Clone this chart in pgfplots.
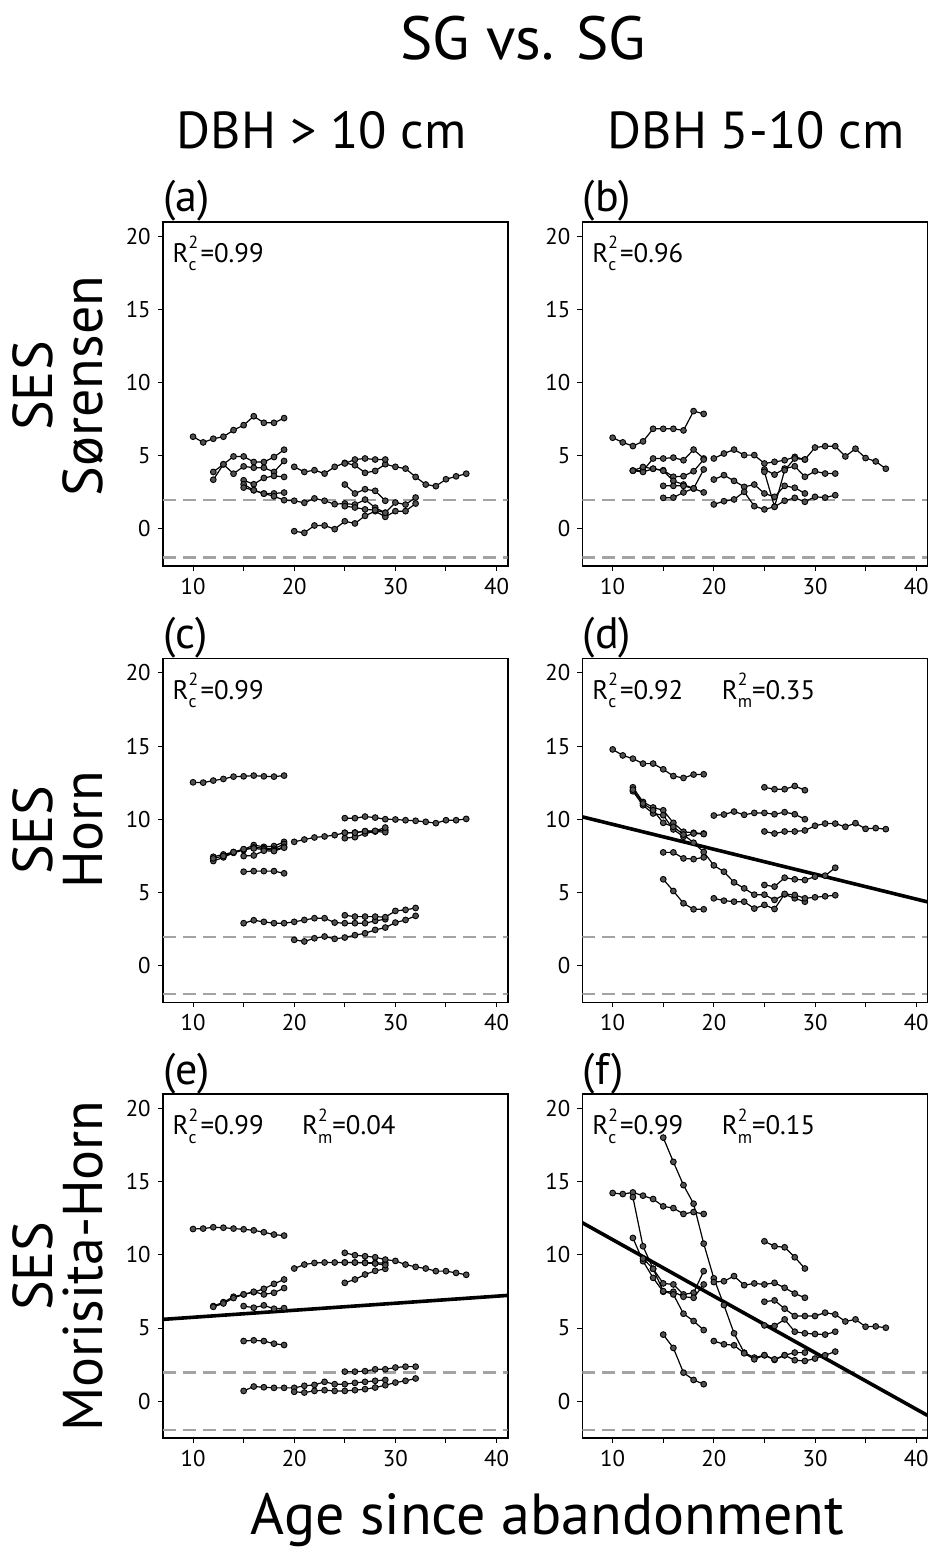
\documentclass[border=0pt]{standalone}
\usepackage{fontspec}
\setmainfont{PT Sans}
\usepackage{pgfplots}
\pgfplotsset{compat=1.18}
\newcommand{\ssz}{\fontsize{8.8}{8.8}\selectfont}
\newcommand{\Rc}[1]{R\rlap{\raisebox{0.52em}{\ssz 2}}\raisebox{-0.3em}{\ssz c}\hspace{2pt}=#1}
\newcommand{\Rm}[1]{R\rlap{\raisebox{0.52em}{\ssz 2}}\raisebox{-0.3em}{\ssz m}=#1}
\tikzset{rsq/.style={anchor=base west,inner sep=0pt,font=\fontsize{13.4}{13.4}\selectfont}}
\pgfplotsset{
 panel/.style={width=172.5pt,height=172pt,scale only axis,anchor=north west,
  xmin=7,xmax=41.1,ymin=-2.52,ymax=21,
  xtick={10,15,20,25,30,35,40},xticklabels={10,,20,,30,,40},
  ytick={0,5,10,15,20},
  tick align=outside,tick pos=left,major tick length=2.5pt,
  every tick/.style={black,line width=0.5pt},
  axis line style={line width=0.8pt},
  tick label style={font=\fontsize{11.4}{12}\selectfont},
  /pgf/number format/assume math mode=true},
 traj/.style={black,line width=0.6pt,mark=*,mark size=1.45pt,
  mark options={fill=black!68,draw=black,line width=0.45pt,solid}},
 ref/.style={black!36,line width=1.1pt,dash pattern=on 6.5pt off 3.5pt},
 fit/.style={black,line width=1.8pt}
}
\begin{document}
\begin{tikzpicture}
\path[use as bounding box] (0,0) rectangle (465.5pt,-776pt);
% titles
\node[anchor=base,inner sep=0pt,font=\fontsize{30.5}{30.5}\selectfont] at (261.5pt,-30pt) {SG vs. SG};
\node[anchor=base,inner sep=0pt,font=\fontsize{26}{26}\selectfont] at (160.8pt,-74.2pt) {DBH > 10 cm};
\node[anchor=base,inner sep=0pt,font=\fontsize{26}{26}\selectfont] at (378pt,-74.2pt) {DBH 5-10 cm};
% row labels
\node[rotate=90,align=center,inner sep=0pt,font=\fontsize{28}{25}\selectfont] at (28.75pt,-193pt) {SES\\Sørensen};
\node[rotate=90,align=center,inner sep=0pt,font=\fontsize{28}{25}\selectfont] at (28.75pt,-415pt) {SES\\Horn};
\node[rotate=90,align=center,inner sep=0pt,font=\fontsize{28}{25}\selectfont] at (28.75pt,-633pt) {SES\\Morisita-Horn};
\node[anchor=base,inner sep=0pt,font=\fontsize{29}{29}\selectfont] at (273.8pt,-767pt) {Age since abandonment};
% panel tags
\foreach \t/\x/\y in {a/81.35/-110.85,b/291.15/-110.85,c/81.35/-329.15,d/291.15/-329.15,e/81.35/-547,f/291.15/-547}
  \node[anchor=base west,inner sep=0pt,font=\fontsize{22}{22}\selectfont] at (\x pt,\y pt+5pt) {(\t)};

% (a)
\begin{axis}[panel,at={(81.35pt,-110.85pt)}]
\addplot[ref] coordinates {(7,1.96)(41.1,1.96)};
\addplot[ref] coordinates {(7,-1.96)(41.1,-1.96)};
\addplot[traj] coordinates {(10,6.30)(11,5.91)(12,6.16)(13,6.30)(14,6.75)(15,7.09)(16,7.70)(17,7.25)(18,7.25)(19,7.57)};
\addplot[traj] coordinates {(12,3.89)(13,4.41)(14,4.95)(15,4.95)(16,4.57)(17,4.57)(18,4.91)(19,5.41)};
\addplot[traj] coordinates {(12,3.36)(13,4.41)(14,3.77)(15,4.27)(16,4.18)(17,4.18)(18,3.89)(19,4.64)};
\addplot[traj] coordinates {(15,3.32)(16,3.05)(17,3.48)(18,3.62)(19,3.55)};
\addplot[traj] coordinates {(15,3.05)(16,2.64)(17,2.41)(18,2.42)(19,2.48)};
\addplot[traj] coordinates {(15,2.82)(16,2.64)(17,2.41)(18,2.23)(19,1.96)(20,1.92)(21,1.78)(22,2.08)(23,1.92)(24,1.69)(25,1.73)(26,1.66)(27,2.00)(28,1.45)(29,1.10)};
\addplot[traj] coordinates {(20,-0.16)(21,-0.27)(22,0.23)(23,0.23)(24,-0.02)(25,0.52)(26,0.37)(27,0.89)(28,1.21)(29,0.82)(30,1.21)(31,1.21)(32,1.73)};
\addplot[traj] coordinates {(25,1.55)(26,1.46)(27,1.33)(28,1.28)(29,1.10)(30,1.80)(31,1.66)(32,2.14)};
\addplot[traj] coordinates {(25,3.03)(26,2.42)(27,2.71)(28,2.60)(29,1.92)};
\addplot[traj] coordinates {(20,4.24)(21,3.89)(22,4.01)(23,3.78)(24,4.24)(25,4.51)(26,4.35)(27,3.83)(28,3.96)(29,4.42)(30,4.24)(31,4.12)(32,3.55)(33,3.03)(34,2.92)(35,3.39)(36,3.59)(37,3.77)};
\addplot[traj] coordinates {(25,4.47)(26,4.74)(27,4.81)(28,4.74)(29,4.74)};
\node[rsq] at (axis cs:7.95,18.2) {\Rc{0.99}};
\end{axis}

% (b)
\begin{axis}[panel,at={(291.15pt,-110.85pt)}]
\addplot[ref] coordinates {(7,1.96)(41.1,1.96)};
\addplot[ref] coordinates {(7,-1.96)(41.1,-1.96)};
\addplot[traj] coordinates {(10,6.23)(11,5.91)(12,5.66)(13,5.98)(14,6.84)(15,6.84)(16,6.84)(17,6.73)(18,8.05)(19,7.86)};
\addplot[traj] coordinates {(12,3.98)(13,3.98)(14,4.81)(15,4.81)(16,4.87)(17,4.69)(18,5.42)(19,4.81)};
\addplot[traj] coordinates {(12,3.98)(13,3.89)(14,4.11)(15,4.01)(16,3.56)(17,3.60)(18,3.94)(19,4.74)};
\addplot[traj] coordinates {(12,3.98)(13,4.23)(14,4.11)(15,3.97)(16,3.28)(17,3.03)(18,2.76)(19,4.06)};
\addplot[traj] coordinates {(15,2.94)(16,2.94)(17,2.94)(18,2.76)(19,2.49)};
\addplot[traj] coordinates {(15,2.12)(16,2.14)(17,2.49)(18,2.76)};
\addplot[traj] coordinates {(20,4.81)(21,5.15)(22,5.42)(23,5.04)(24,5.04)(25,4.47)(26,4.58)(27,4.69)(28,4.92)(29,4.74)(30,5.56)(31,5.65)(32,5.65)(33,4.95)(34,5.48)(35,4.84)(36,4.61)(37,4.11)};
\addplot[traj] coordinates {(25,4.06)(26,3.71)(27,4.12)(28,4.28)(29,3.56)(30,3.94)(31,3.78)(32,3.78)};
\addplot[traj] coordinates {(25,3.90)(26,1.51)(27,4.01)(28,4.81)(29,4.74)};
\addplot[traj] coordinates {(20,3.37)(21,3.67)(22,3.28)(23,2.87)(24,3.03)(25,2.42)(26,2.19)(27,2.94)(28,2.81)(29,2.42)};
\addplot[traj] coordinates {(20,1.67)(21,1.89)(22,2.01)(23,2.53)(24,1.55)(25,1.33)(26,1.51)(27,1.92)(28,2.12)(29,1.85)(30,2.19)(31,2.14)(32,2.30)};
\node[rsq] at (axis cs:7.95,18.2) {\Rc{0.96}};
\end{axis}

% (c)
\begin{axis}[panel,at={(81.35pt,-329.15pt)}]
\addplot[ref] coordinates {(7,1.96)(41.1,1.96)};
\addplot[ref] coordinates {(7,-1.96)(41.1,-1.96)};
\addplot[traj] coordinates {(10,12.52)(11,12.50)(12,12.64)(13,12.75)(14,12.91)(15,12.93)(16,12.98)(17,12.93)(18,12.91)(19,12.98)};
\addplot[traj] coordinates {(12,7.43)(13,7.59)(14,7.75)(15,7.93)(16,8.23)(17,8.11)(18,8.16)(19,8.45)};
\addplot[traj] coordinates {(12,7.14)(13,7.39)(14,7.70)(15,7.89)(16,8.07)(17,8.02)(18,7.98)(19,8.30)};
\addplot[traj] coordinates {(12,7.32)(13,7.48)(14,7.75)(15,7.95)(16,8.00)(17,7.93)(18,7.89)(19,8.11)};
\addplot[traj] coordinates {(15,7.48)(16,7.52)(17,7.84)(18,7.82)(19,8.05)};
\addplot[traj] coordinates {(15,6.41)(16,6.45)(17,6.45)(18,6.45)(19,6.30)};
\addplot[traj] coordinates {(20,8.45)(21,8.61)(22,8.75)(23,8.82)(24,8.91)(25,9.07)(26,9.09)(27,9.18)(28,9.18)(29,9.25)};
\addplot[traj] coordinates {(25,8.70)(26,8.77)(27,9.02)(28,9.16)(29,9.11)};
\addplot[traj] coordinates {(25,9.07)(26,9.07)(27,9.18)(28,9.20)(29,9.43)};
\addplot[traj] coordinates {(25,10.07)(26,10.07)(27,10.18)(28,10.11)(29,10.00)(30,9.98)(31,9.93)(32,9.89)(33,9.82)(34,9.73)(35,9.93)(36,9.93)(37,10.02)};
\addplot[traj] coordinates {(15,2.89)(16,3.09)(17,2.98)(18,2.89)(19,2.89)(20,2.98)(21,3.11)(22,3.23)(23,3.23)(24,2.93)(25,2.89)(26,2.89)(27,2.89)(28,3.05)(29,3.16)};
\addplot[traj] coordinates {(25,3.43)(26,3.34)(27,3.34)(28,3.34)(29,3.30)(30,3.73)(31,3.80)(32,3.93)};
\addplot[traj] coordinates {(20,1.75)(21,1.64)(22,1.86)(23,1.98)(24,1.82)(25,1.91)(26,2.07)(27,2.20)(28,2.43)(29,2.59)(30,2.93)(31,3.11)(32,3.39)};
\node[rsq] at (axis cs:7.95,18.2) {\Rc{0.99}};
\end{axis}

% (d)
\begin{axis}[panel,at={(291.15pt,-329.15pt)}]
\addplot[ref] coordinates {(7,1.96)(41.1,1.96)};
\addplot[ref] coordinates {(7,-1.96)(41.1,-1.96)};
\addplot[traj] coordinates {(10,14.77)(11,14.36)(12,14.14)(13,13.80)(14,13.80)(15,13.41)(16,12.95)(17,12.82)(18,13.05)(19,13.07)};
\addplot[traj] coordinates {(12,12.18)(13,11.18)(14,10.80)(15,10.61)(16,9.75)(17,9.14)(18,9.07)(19,9.02)};
\addplot[traj] coordinates {(12,11.91)(13,10.95)(14,10.39)(15,10.27)(16,9.30)(17,8.80)(18,9.02)(19,8.98)};
\addplot[traj] coordinates {(12,12.02)(13,11.07)(14,10.61)(15,9.75)(16,9.48)(17,8.95)(18,8.39)(19,7.75)(20,6.84)(21,6.41)(22,5.68)(23,5.27)(24,4.84)(25,4.84)(26,4.48)(27,4.86)(28,4.59)(29,4.36)};
\addplot[traj] coordinates {(15,7.73)(16,7.73)(17,7.32)(18,7.27)(19,7.39)};
\addplot[traj] coordinates {(15,5.89)(16,5.09)(17,4.25)(18,3.84)(19,3.84)};
\addplot[traj] coordinates {(25,12.18)(26,12.05)(27,12.05)(28,12.27)(29,11.98)};
\addplot[traj] coordinates {(20,10.25)(21,10.32)(22,10.52)(23,10.30)(24,10.43)(25,10.43)(26,10.34)(27,10.48)(28,10.34)(29,10.00)};
\addplot[traj] coordinates {(25,9.16)(26,9.02)(27,9.16)(28,9.16)(29,9.23)(30,9.55)(31,9.70)(32,9.70)(33,9.48)(34,9.73)(35,9.34)(36,9.39)(37,9.32)};
\addplot[traj] coordinates {(25,5.50)(26,5.39)(27,6.00)(28,5.89)(29,5.84)(30,6.07)(31,6.14)(32,6.68)};
\addplot[traj] coordinates {(20,4.59)(21,4.43)(22,4.36)(23,4.36)(24,3.89)(25,4.14)(26,3.86)(27,4.89)(28,4.82)(29,4.59)(30,4.66)(31,4.73)(32,4.80)};
\addplot[fit] coordinates {(7,10.16)(41.1,4.35)};
\node[rsq] at (axis cs:7.95,18.2) {\Rc{0.92}};
\node[rsq] at (axis cs:20.75,18.2) {\Rm{0.35}};
\end{axis}

% (e)
\begin{axis}[panel,at={(81.35pt,-547pt)}]
\addplot[ref] coordinates {(7,1.96)(41.1,1.96)};
\addplot[ref] coordinates {(7,-1.96)(41.1,-1.96)};
\addplot[traj] coordinates {(10,11.77)(11,11.80)(12,11.89)(13,11.86)(14,11.80)(15,11.75)(16,11.68)(17,11.55)(18,11.39)(19,11.32)};
\addplot[traj] coordinates {(12,6.50)(13,6.77)(14,7.14)(15,7.30)(16,7.45)(17,7.68)(18,8.02)(19,8.32)};
\addplot[traj] coordinates {(12,6.45)(13,6.68)(14,7.05)(15,7.30)(16,7.48)(17,7.30)(18,7.41)(19,7.73)};
\addplot[traj] coordinates {(15,6.50)(16,6.39)(17,6.55)(18,6.32)(19,6.36)};
\addplot[traj] coordinates {(15,4.11)(16,4.16)(17,4.11)(18,3.93)(19,3.84)};
\addplot[traj] coordinates {(20,9.07)(21,9.34)(22,9.45)(23,9.48)(24,9.48)(25,9.48)(26,9.48)(27,9.48)(28,9.45)(29,9.45)};
\addplot[traj] coordinates {(25,10.14)(26,9.98)(27,9.91)(28,9.84)(29,9.68)(30,9.59)(31,9.34)(32,9.18)(33,9.07)(34,8.89)(35,8.89)(36,8.77)(37,8.64)};
\addplot[traj] coordinates {(25,8.09)(26,8.32)(27,8.66)(28,8.91)(29,9.05)};
\addplot[traj] coordinates {(25,9.48)(26,9.48)(27,9.45)(28,9.41)(29,9.30)};
\addplot[traj] coordinates {(15,0.70)(16,1.00)(17,0.95)(18,0.91)(19,0.91)(20,0.91)(21,1.05)(22,1.11)(23,1.32)(24,1.16)(25,1.16)(26,1.25)(27,1.32)(28,1.39)(29,1.45)};
\addplot[traj] coordinates {(20,0.64)(21,0.59)(22,0.70)(23,0.75)(24,0.70)(25,0.70)(26,0.75)(27,0.82)(28,0.93)(29,1.09)(30,1.27)(31,1.39)(32,1.55)};
\addplot[traj] coordinates {(25,2.02)(26,2.02)(27,2.05)(28,2.18)(29,2.18)(30,2.30)(31,2.36)(32,2.36)};
\addplot[fit] coordinates {(7,5.59)(41.1,7.23)};
\node[rsq] at (axis cs:7.95,18.2) {\Rc{0.99}};
\node[rsq] at (axis cs:20.75,18.2) {\Rm{0.04}};
\end{axis}

% (f)
\begin{axis}[panel,at={(291.15pt,-547pt)}]
\addplot[ref] coordinates {(7,1.96)(41.1,1.96)};
\addplot[ref] coordinates {(7,-1.96)(41.1,-1.96)};
\addplot[traj] coordinates {(10,14.23)(11,14.16)(12,14.27)(13,14.05)(14,13.82)(15,13.32)(16,13.20)(17,12.80)(18,12.93)(19,12.80)};
\addplot[traj] coordinates {(15,18.02)(16,16.36)(17,14.77)(18,13.50)(19,10.77)(20,8.40)(21,6.57)(22,4.64)(23,3.32)(24,2.98)(25,3.14)(26,2.82)(27,3.14)(28,3.32)(29,3.32)};
\addplot[traj] coordinates {(12,13.95)(13,10.59)(14,9.05)(15,8.05)(16,7.98)(17,7.30)(18,7.41)(19,8.89)};
\addplot[traj] coordinates {(12,11.16)(13,9.57)(14,8.43)(15,7.48)(16,7.48)(17,7.14)(18,7.07)(19,7.98)};
\addplot[traj] coordinates {(13,9.75)(14,9.05)(15,7.52)(16,7.30)(17,5.98)(18,5.48)(19,4.86)};
\addplot[traj] coordinates {(15,4.55)(16,3.64)(17,1.95)(18,1.45)(19,1.16)};
\addplot[traj] coordinates {(20,8.14)(21,8.20)(22,8.55)(23,7.93)(24,8.05)(25,7.98)(26,8.09)(27,7.75)(28,7.36)(29,7.07)};
\addplot[traj] coordinates {(25,10.93)(26,10.59)(27,10.52)(28,9.84)(29,9.07)};
\addplot[traj] coordinates {(25,6.80)(26,6.89)(27,6.32)(28,5.82)(29,5.82)(30,5.82)(31,6.05)(32,5.93)(33,5.45)(34,5.59)(35,5.09)(36,5.11)(37,5.02)};
\addplot[traj] coordinates {(25,5.18)(26,5.14)(27,5.59)(28,4.75)(29,4.64)(30,4.59)(31,4.55)(32,4.75)};
\addplot[traj] coordinates {(20,4.11)(21,3.89)(22,3.82)(23,3.27)(24,2.86)(25,3.14)(26,2.86)(27,3.14)(28,2.80)(29,2.75)(30,2.91)(31,3.14)(32,3.39)};
\addplot[fit] coordinates {(7,12.2)(41.1,-0.97)};
\node[rsq] at (axis cs:7.95,18.2) {\Rc{0.99}};
\node[rsq] at (axis cs:20.75,18.2) {\Rm{0.15}};
\end{axis}
\end{tikzpicture}
\end{document}
